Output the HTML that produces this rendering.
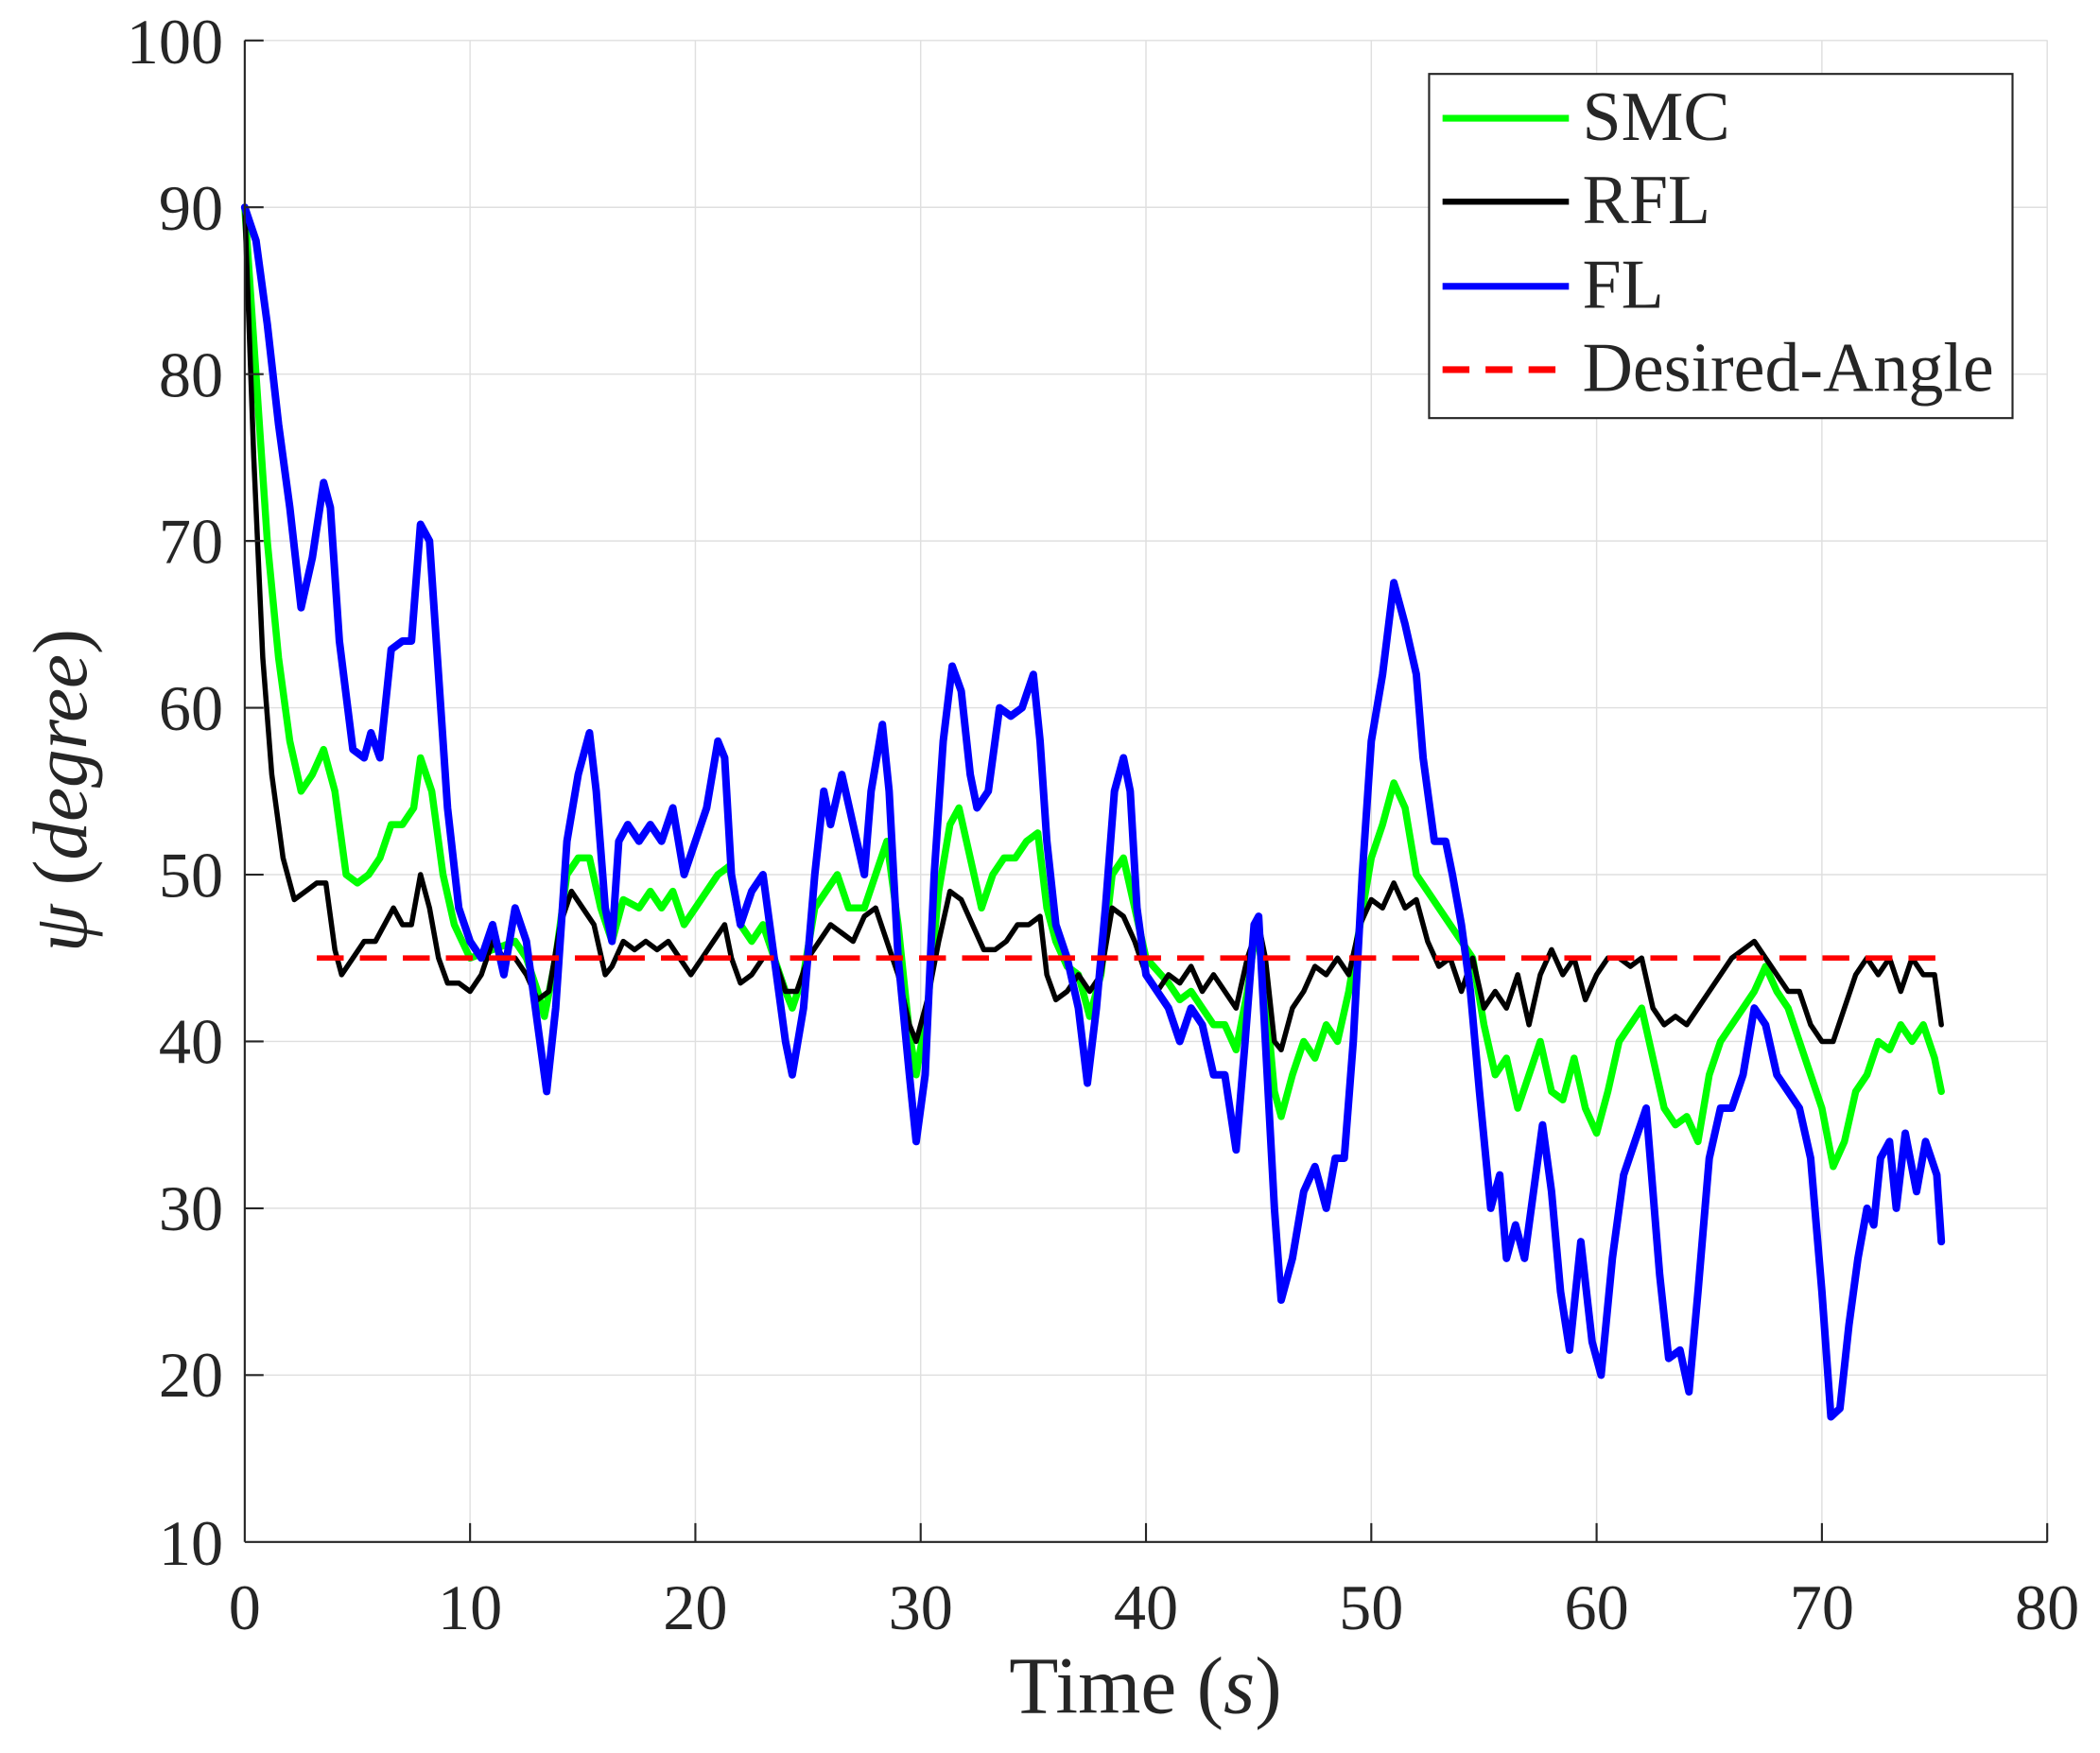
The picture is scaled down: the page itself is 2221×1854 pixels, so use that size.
<!DOCTYPE html>
<html><head><meta charset="utf-8"><style>
html,body{margin:0;padding:0;background:#fff;}
svg{display:block;}
text{font-family:"Liberation Serif",serif;fill:#262626;}
</style></head><body>
<svg width="2221" height="1854" viewBox="0 0 1562 1304" xmlns="http://www.w3.org/2000/svg">
<rect width="1562" height="1304" fill="#fff"/>
<g stroke="#dfdfdf" stroke-width="1">
<line x1="349.6" y1="30" x2="349.6" y2="1147"/>
<line x1="517.2" y1="30" x2="517.2" y2="1147"/>
<line x1="684.8" y1="30" x2="684.8" y2="1147"/>
<line x1="852.4" y1="30" x2="852.4" y2="1147"/>
<line x1="1020" y1="30" x2="1020" y2="1147"/>
<line x1="1187.6" y1="30" x2="1187.6" y2="1147"/>
<line x1="1355.2" y1="30" x2="1355.2" y2="1147"/>
<line x1="1522.8" y1="30" x2="1522.8" y2="1147"/>
<line x1="182" y1="30.1" x2="1523" y2="30.1"/>
<line x1="182" y1="154.2" x2="1523" y2="154.2"/>
<line x1="182" y1="278.3" x2="1523" y2="278.3"/>
<line x1="182" y1="402.4" x2="1523" y2="402.4"/>
<line x1="182" y1="526.5" x2="1523" y2="526.5"/>
<line x1="182" y1="650.6" x2="1523" y2="650.6"/>
<line x1="182" y1="774.7" x2="1523" y2="774.7"/>
<line x1="182" y1="898.8" x2="1523" y2="898.8"/>
<line x1="182" y1="1022.9" x2="1523" y2="1022.9"/>
</g>
<g transform="translate(182,1271.1) scale(16.76,-12.41)" fill="none" stroke-linejoin="round" stroke-linecap="round">
<polyline vector-effect="non-scaling-stroke" stroke="#00ff00" stroke-width="7.5" points="0,90 .5,80 1,70 1.5,63 2,58 2.5,55 3,56 3.5,57.5 4,55 4.5,50 5,49.5 5.5,50 6,51 6.5,53 7,53 7.5,54 7.8,57 8.3,55 8.8,50 9.3,47 10,45 11,45.5 12,46 12.5,45 13,43 13.3,41.5 13.8,45 14.3,50 14.8,51 15.3,51 15.8,48 16.3,46 16.8,48.5 17.5,48 18,49 18.5,48 19,49 19.5,47 20,48 20.5,49 21,50 21.5,50.5 22,47 22.5,46 23,47 23.5,45 24,43 24.3,42 24.8,44 25.3,48 25.8,49 26.3,50 26.8,48 27.5,48 28,50 28.5,52 29,47 29.5,40.5 29.8,38 30.3,42 30.8,49 31.3,53 31.7,54 32.2,51 32.7,48 33.2,50 33.7,51 34.2,51 34.7,52 35.2,52.5 35.6,48 36,46 36.5,44.5 37,44 37.5,41.5 38,44 38.5,50 39,51 39.5,48 40,45 41,43.5 41.5,42.5 42,43 42.5,42 43,41 43.5,41 44,39.5 44.5,43 44.9,47 45.3,43 45.7,37 46,35.5 46.5,38 47,40 47.5,39 48,41 48.5,40 49,43 49.5,47 50,51 50.5,53 51,55.5 51.5,54 52,50 52.5,49 53,48 53.5,47 54,46 54.5,45 55,41 55.5,38 56,39 56.5,36 57,38 57.5,40 58,37 58.5,36.5 59,39 59.5,36 60,34.5 60.5,37 61,40 61.5,41 62,42 62.5,39 63,36 63.5,35 64,35.5 64.5,34 65,38 65.5,40 66,41 66.5,42 67,43 67.5,44.5 68,43 68.5,42 69,40 69.5,38 70,36 70.5,32.5 71,34 71.5,37 72,38 72.5,40 73,39.5 73.5,41 74,40 74.5,41 75,39 75.3,37"/>
<polyline vector-effect="non-scaling-stroke" stroke="#000" stroke-width="5.5" points="0,90 .4,75 .8,63 1.2,56 1.7,51 2.2,48.5 2.7,49 3.2,49.5 3.6,49.5 4,45.5 4.3,44 4.8,45 5.3,46 5.8,46 6.2,47 6.6,48 7,47 7.4,47 7.8,50 8.2,48 8.6,45 9,43.5 9.5,43.5 10,43 10.5,44 11,46 11.5,45 12,45 12.5,44 13,42.5 13.5,43 14,47 14.5,49 15,48 15.5,47 16,44 16.3,44.5 16.8,46 17.3,45.5 17.8,46 18.3,45.5 18.8,46 19.3,45 19.8,44 20.3,45 20.8,46 21.3,47 21.6,45 22,43.5 22.5,44 23,45 23.5,45 24,43 24.5,43 25,45 25.5,46 26,47 26.5,46.5 27,46 27.5,47.5 28,48 28.5,46 29,44 29.5,41 29.8,40 30.3,42.5 30.8,46 31.3,49 31.8,48.5 32.3,47 32.8,45.5 33.3,45.5 33.8,46 34.3,47 34.8,47 35.3,47.5 35.6,44 36,42.5 36.5,43 37,44 37.5,43 38,44 38.5,48 39,47.5 39.5,46 40,44 40.5,43 41,44 41.5,43.5 42,44.5 42.5,43 43,44 43.5,43 44,42 44.5,45 45,47 45.3,45 45.7,40 46,39.5 46.5,42 47,43 47.5,44.5 48,44 48.5,45 49,44 49.5,47 50,48.5 50.5,48 51,49.5 51.5,48 52,48.5 52.5,46 53,44.5 53.5,45 54,43 54.5,45 55,42 55.5,43 56,42 56.5,44 57,41 57.5,44 58,45.5 58.5,44 59,45 59.5,42.5 60,44 60.5,45 61,45 61.5,44.5 62,45 62.5,42 63,41 63.5,41.5 64,41 64.5,42 65,43 65.5,44 66,45 66.5,45.5 67,46 67.5,45 68,44 68.5,43 69,43 69.5,41 70,40 70.5,40 71,42 71.5,44 72,45 72.5,44 73,45 73.5,43 74,45 74.5,44 75,44 75.3,41"/>
<polyline vector-effect="non-scaling-stroke" stroke="#0000ff" stroke-width="8" points="0,90 .5,88 1,83 1.5,77 2,72 2.5,66 3,69 3.5,73.5 3.8,72 4.2,64 4.8,57.5 5.3,57 5.6,58.5 6,57 6.5,63.5 7,64 7.4,64 7.8,71 8.2,70 8.6,62 9,54 9.5,48 10,46 10.5,45 11,47 11.5,44 12,48 12.5,46 13,41 13.4,37 13.8,42 14.3,52 14.8,56 15.3,58.5 15.6,55 16,48 16.3,46 16.6,52 17,53 17.5,52 18,53 18.5,52 19,54 19.5,50 20,52 20.5,54 21,58 21.3,57 21.6,50 22,47 22.5,49 23,50 23.5,45 24,40 24.3,38 24.8,42 25.3,50 25.7,55 26,53 26.5,56 27,53 27.5,50 27.8,55 28.3,59 28.6,55 29,45 29.5,38 29.8,34 30.2,38 30.6,50 31,58 31.4,62.5 31.8,61 32.2,56 32.5,54 33,55 33.5,60 34,59.5 34.5,60 35,62 35.3,58 35.6,52 36,47 36.5,45 37,42 37.4,37.5 37.8,42 38.2,48 38.6,55 39,57 39.3,55 39.6,48 40,44 40.5,43 41,42 41.5,40 42,42 42.5,41 43,38 43.5,38 44,33.5 44.4,40 44.8,47 45,47.5 45.3,40 45.7,30 46,24.5 46.5,27 47,31 47.5,32.5 48,30 48.4,33 48.8,33 49.2,40 49.6,50 50,58 50.5,62 51,67.5 51.5,65 52,62 52.3,57 52.8,52 53.3,52 53.6,50 54,47 54.4,43 54.8,37 55.3,30 55.7,32 56,27 56.4,29 56.8,27 57.2,31 57.6,35 58,31 58.4,25 58.8,21.5 59.3,28 59.8,22 60.2,20 60.7,27 61.2,32 61.7,34 62.2,36 62.5,31 62.8,26 63.2,21 63.7,21.5 64.1,19 64.5,25 65,33 65.5,36 66,36 66.5,38 67,42 67.5,41 68,38 68.5,37 69,36 69.5,33 70,25 70.4,17.5 70.8,18 71.2,23 71.6,27 72,30 72.3,29 72.6,33 73,34 73.3,30 73.7,34.5 74.2,31 74.6,34 75.1,32 75.3,28"/>
</g>
<line x1="235.6" y1="712.6" x2="1444" y2="712.6" stroke="#ff0000" stroke-width="4" stroke-dasharray="20,12"/>
<g stroke="#262626" stroke-width="1.5" fill="none">
<line x1="182" y1="30" x2="182" y2="1147"/>
<line x1="182" y1="1147" x2="1523" y2="1147"/>
<line x1="349.6" y1="1147" x2="349.6" y2="1133"/>
<line x1="517.2" y1="1147" x2="517.2" y2="1133"/>
<line x1="684.8" y1="1147" x2="684.8" y2="1133"/>
<line x1="852.4" y1="1147" x2="852.4" y2="1133"/>
<line x1="1020" y1="1147" x2="1020" y2="1133"/>
<line x1="1187.6" y1="1147" x2="1187.6" y2="1133"/>
<line x1="1355.2" y1="1147" x2="1355.2" y2="1133"/>
<line x1="1522.8" y1="1147" x2="1522.8" y2="1133"/>
<line x1="182" y1="30.1" x2="196" y2="30.1"/>
<line x1="182" y1="154.2" x2="196" y2="154.2"/>
<line x1="182" y1="278.3" x2="196" y2="278.3"/>
<line x1="182" y1="402.4" x2="196" y2="402.4"/>
<line x1="182" y1="526.5" x2="196" y2="526.5"/>
<line x1="182" y1="650.6" x2="196" y2="650.6"/>
<line x1="182" y1="774.7" x2="196" y2="774.7"/>
<line x1="182" y1="898.8" x2="196" y2="898.8"/>
<line x1="182" y1="1022.9" x2="196" y2="1022.9"/>
</g>
<g font-size="48" text-anchor="middle">
<text x="182" y="1212">0</text>
<text x="349.6" y="1212">10</text>
<text x="517.2" y="1212">20</text>
<text x="684.8" y="1212">30</text>
<text x="852.4" y="1212">40</text>
<text x="1020" y="1212">50</text>
<text x="1187.6" y="1212">60</text>
<text x="1355.2" y="1212">70</text>
<text x="1522.8" y="1212">80</text>
</g>
<g font-size="48" text-anchor="end">
<text x="166" y="47">100</text>
<text x="166" y="171">90</text>
<text x="166" y="295">80</text>
<text x="166" y="419">70</text>
<text x="166" y="543">60</text>
<text x="166" y="667">50</text>
<text x="166" y="791">40</text>
<text x="166" y="915">30</text>
<text x="166" y="1039">20</text>
<text x="166" y="1164">10</text>
</g>
<text x="852" y="1274" font-size="60" text-anchor="middle">Time (<tspan font-style="italic">s</tspan>)</text>
<text transform="translate(64,588) rotate(-90)" font-size="57" text-anchor="middle"><tspan font-style="italic">ψ</tspan> (<tspan font-style="italic">degree</tspan>)</text>
<rect x="1063" y="55" width="434" height="256" fill="#fff" stroke="#262626" stroke-width="1.5"/>
<line x1="1073" y1="88" x2="1167" y2="88" stroke="#00ff00" stroke-width="5"/>
<line x1="1073" y1="150" x2="1167" y2="150" stroke="#000" stroke-width="4.5"/>
<line x1="1073" y1="213" x2="1167" y2="213" stroke="#0000ff" stroke-width="5"/>
<line x1="1073" y1="275" x2="1167" y2="275" stroke="#ff0000" stroke-width="5" stroke-dasharray="20,12"/>
<text x="1177" y="104" font-size="52">SMC</text>
<text x="1177" y="166" font-size="52">RFL</text>
<text x="1177" y="229" font-size="52">FL</text>
<text x="1177" y="291" font-size="52">Desired-Angle</text>
</svg>
</body></html>
